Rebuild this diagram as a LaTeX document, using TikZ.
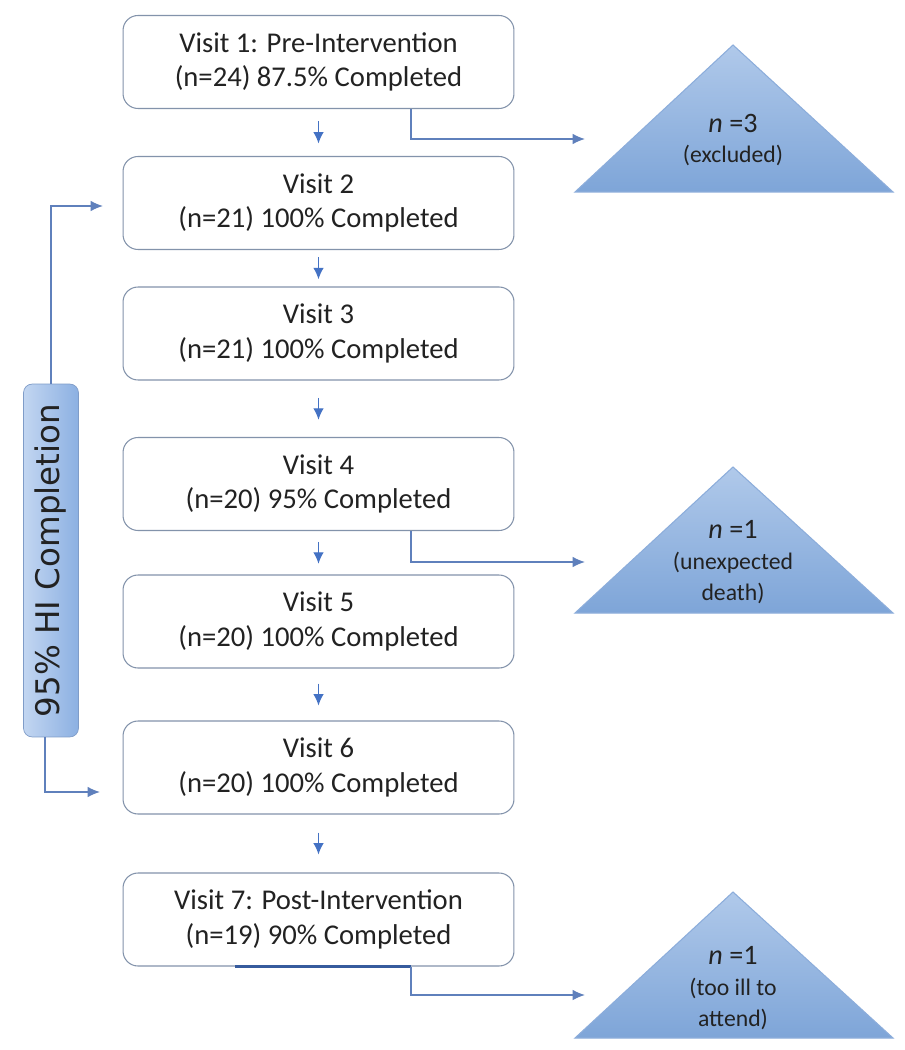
\documentclass[tikz,border=0pt]{standalone}
\usepackage{fontspec}
\setmainfont{Carlito}
\newfontfamily\hifont{DejaVu Sans}
\usetikzlibrary{arrows,arrows.meta,calc}
\definecolor{boxline}{HTML}{8393AB}
\definecolor{arrblue}{HTML}{4472C4}
\definecolor{sideline}{HTML}{5F80BC}
\definecolor{trilight}{HTML}{B0C9EA}
\definecolor{tridark}{HTML}{7EA5D8}
\definecolor{triline}{HTML}{8CADDB}
\definecolor{hilight}{HTML}{C3D6F1}
\definecolor{hidark}{HTML}{8BB0E2}
\definecolor{hiline}{HTML}{7F9CC8}
\definecolor{txt}{HTML}{222222}
\tikzset{
	visit/.style={draw=boxline, rounded corners=8.5pt, minimum width=7.82cm, minimum height=1.86cm,
		align=center, text=txt, font=\fontsize{16.3}{19.8}\selectfont, line width=0.6pt},
	downarr/.style={draw=arrblue, -{Latex[length=6.5pt,width=6pt]}, line width=0.7pt},
	sidearr/.style={draw=sideline, -{Latex[length=7pt,width=6pt]}, line width=0.8pt},
	tritext/.style={align=center, text=txt, font=\fontsize{13.5}{17.6}\selectfont},
}
\begin{document}
\begin{tikzpicture}[x=0.02cm, y=-0.02cm]
	\useasboundingbox[fill=white] (0,0) rectangle (904,1050);

	\node[visit] (v1) at (318.5,62) {Visit 1: Pre-Intervention\\(n=24) 87.5\% Completed};
	\node[visit] (v2) at (318.5,203) {Visit 2\\(n=21) 100\% Completed};
	\node[visit] (v3) at (318.5,333.5) {Visit 3\\(n=21) 100\% Completed};
	\node[visit] (v4) at (318.5,484) {Visit 4\\(n=20) 95\% Completed};
	\node[visit] (v5) at (318.5,621.5) {Visit 5\\(n=20) 100\% Completed};
	\node[visit] (v6) at (318.5,767.5) {Visit 6\\(n=20) 100\% Completed};
	\node[visit] (v7) at (318.5,919.5) {Visit 7: Post-Intervention\\(n=19) 90\% Completed};

	\foreach \a/\b in {v1/v2,v2/v3,v3/v4,v4/v5,v5/v6,v6/v7}
	\draw[downarr] ($(\a.south)!0.5!(\b.north)$) ++(0,-11) -- ++(0,22);

	\draw[draw=arrblue!80!black, line width=1.6pt] ([xshift=-1.67cm]v7.south) -- ([xshift=1.85cm]v7.south);

	\foreach \ty/\by in {45/192,467/613,892/1038}
	\shade[top color=trilight, bottom color=tridark, draw=triline, line width=0.6pt]
		(733,\ty) -- (893,\by) -- (575,\by) -- cycle;

	\node[tritext] (t1) at (733,140) {{\fontsize{16}{17.6}\selectfont\textit{n} =3}\\(excluded)};
	\node[tritext] (t2) at (733,562) {{\fontsize{16}{17.6}\selectfont\textit{n} =1}\\(unexpected\\death)};
	\node[tritext] (t3) at (733,988) {{\fontsize{16}{17.6}\selectfont\textit{n} =1}\\(too ill to\\attend)};

	\coordinate (e1) at (585,139);
	\coordinate (e2) at (585,562);
	\coordinate (e3) at (585,995);
	\draw[sidearr] ([xshift=1.85cm]v1.south) |- (e1);
	\draw[sidearr] ([xshift=1.85cm]v4.south) |- (e2);
	\draw[sidearr] ([xshift=1.85cm]v7.south) |- (e3);

	\node[rotate=90, draw=hiline, left color=hilight, right color=hidark, rounded corners=5pt,
		minimum width=7.06cm, minimum height=1.1cm, text=txt, font=\hifont\fontsize{18.5}{22}\selectfont]
		(hi) at (51,560.5) {95\% HI Completion};
	\coordinate (e4) at (103,206);
	\coordinate (e5) at (100,792);
	\draw[sidearr] (hi.east) |- (e4);
	\draw[sidearr] ([xshift=-0.12cm]hi.west) |- (e5);
\end{tikzpicture}
\end{document}
